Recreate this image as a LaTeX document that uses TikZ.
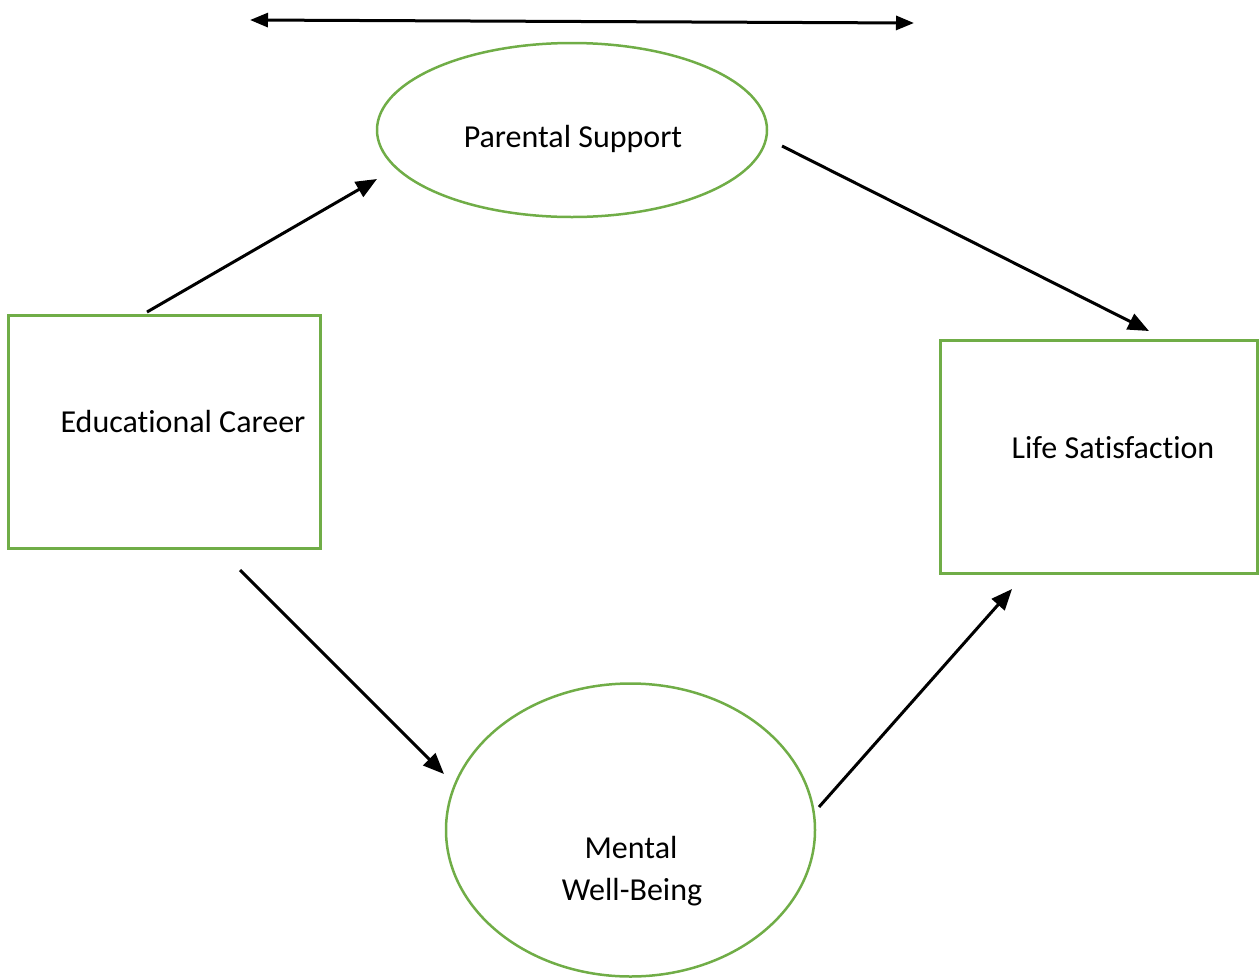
\documentclass[tikz,border=0pt]{standalone}
\usepackage{fontspec}
\setmainfont[RawFeature={-liga;-clig;-dlig}]{Carlito}
\usetikzlibrary{shapes.geometric,arrows.meta}
\definecolor{boxgreen}{RGB}{112,173,71}
\begin{document}
\begin{tikzpicture}[x=1pt,y=-1pt,
  box/.style={draw=boxgreen,line width=3pt,rectangle,inner sep=0pt},
  oval/.style={draw=boxgreen,line width=2.5pt,ellipse,inner sep=0pt},
  lbl/.style={anchor=base,inner sep=0pt,font=\fontsize{32}{42}\selectfont},
  conn/.style={line width=3pt,-{Triangle[length=21pt,width=17pt]}},
  both/.style={line width=3pt,{Triangle[length=18pt,width=14pt]}-{Triangle[length=18pt,width=14pt]}}]
\useasboundingbox (0,0) rectangle (1259,978);
% shapes
\node[box,minimum width=312pt,minimum height=233pt] (ec) at (164,431.5) {};
\node[box,minimum width=317pt,minimum height=233pt] (ls) at (1098.5,456.5) {};
\node[oval,minimum width=390pt,minimum height=174pt] (ps) at (572,130) {};
\node[oval,minimum width=369pt,minimum height=293pt] (mw) at (630.5,830) {};
% texts
\node[lbl] (ect) at (183,432) {Educat\kern0pt ional Career};
\node[lbl] (lst) at (1113,458) {Life Sat\kern0pt isfact\kern0pt ion};
\node[lbl] (pst) at (573,147) {Parental Support};
\node[lbl] (mwt1) at (631,858) {Mental};
\node[lbl] (mwt2) at (632,900) {Well-Being};
% connector end points
\coordinate (tl) at (250,20);
\coordinate (tr) at (914,23);
\coordinate (a1s) at (147,312);
\coordinate (a1e) at (377,179);
\coordinate (a2s) at (782,146);
\coordinate (a2e) at (1149,331);
\coordinate (a3s) at (240,570);
\coordinate (a3e) at (444,774);
\coordinate (a4s) at (819,807);
\coordinate (a4e) at (1012,589);
% connectors
\draw[both] (tl) -- (tr);
\draw[conn] (a1s) -- (a1e);
\draw[conn] (a2s) -- (a2e);
\draw[conn] (a3s) -- (a3e);
\draw[conn] (a4s) -- (a4e);
\end{tikzpicture}
\end{document}
